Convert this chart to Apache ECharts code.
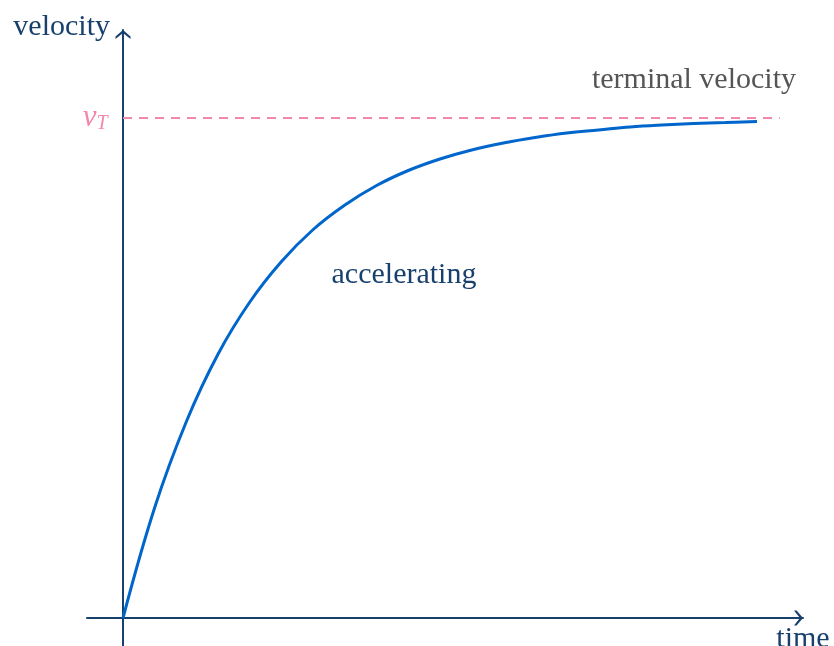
<!DOCTYPE html>
<html>
<head>
<meta charset="utf-8">
<script src="https://cdn.jsdelivr.net/npm/echarts@6/dist/echarts.min.js"></script>
<style>html,body{margin:0;padding:0;background:#fff}#c{width:834px;height:646px}</style>
</head>
<body>
<div id="c"></div>
<script>
// time values (in units of the time constant) and velocity (fraction of terminal velocity)
var timeValues = [0, 0.25, 0.5, 0.75, 1, 1.25, 1.5, 1.75, 2, 2.25, 2.5, 2.75, 3, 3.25, 3.5, 3.75, 4, 4.25, 4.5, 4.75, 5];
var velocityValues = [0, 0.221, 0.393, 0.528, 0.632, 0.713, 0.777, 0.826, 0.865, 0.895, 0.918, 0.936, 0.950, 0.961, 0.970, 0.976, 0.982, 0.986, 0.989, 0.991, 0.993];
var terminalVelocity = 1;
var terminalLineEnd = 5.18;
var axisNames = ['time', 'velocity'];
var annotationTexts = ['accelerating', 'terminal velocity'];
var annotationTimes = [2.216, 4.503];
var annotationVelocities = [0.686, 1.076];

var NAVY = '#17406d';
var PINK = '#f288aa';
var FONT = 'Liberation Serif';
var FS = 30;

var curve = timeValues.map(function (t, i) { return [t, velocityValues[i]]; });
var dashed = [[0, terminalVelocity], [terminalLineEnd, terminalVelocity]];
var chevron = 'path://M0,6.4 L7.5,0 L15,6.4 L15,9 L7.5,3.1 L0,9 Z';

var chart = echarts.init(document.getElementById('c'), null, {renderer: 'canvas'});
chart.setOption({
  animation: false,
  backgroundColor: '#ffffff',
  grid: {left: 87, right: 31, top: 30, bottom: 0, containLabel: false, outerBoundsMode: 'none'},
  xAxis: {
    type: 'value', min: -0.284, max: 5.363,
    name: axisNames[0], nameLocation: 'end', nameGap: 0,
    nameTextStyle: {fontFamily: FONT, fontSize: FS, color: NAVY, align: 'center', verticalAlign: 'top', padding: [6, 0, 0, 0]},
    axisLine: {show: true, onZero: true, symbol: ['none', chevron], symbolSize: [16, 9], symbolOffset: [0, -4.5],
      lineStyle: {color: NAVY, width: 2}},
    axisTick: {show: false}, axisLabel: {show: false}, splitLine: {show: false}
  },
  yAxis: {
    type: 'value', min: -0.056, max: 1.176,
    name: axisNames[1], nameLocation: 'end', nameGap: 3,
    nameTextStyle: {fontFamily: FONT, fontSize: FS, color: NAVY, align: 'right', verticalAlign: 'middle', padding: [0, 13, 0, 0]},
    axisLine: {show: true, onZero: true, symbol: ['none', chevron], symbolSize: [16, 9], symbolOffset: [0, -4.5],
      lineStyle: {color: NAVY, width: 2}},
    axisTick: {show: false}, splitLine: {show: false}, axisLabel: {show: false}
  },
  series: [
    {
      type: 'line', data: dashed, showSymbol: false, silent: true, z: 1,
      lineStyle: {color: PINK, width: 2, type: [9, 7]},
      markPoint: {
        symbol: 'circle', symbolSize: 1, silent: true,
        itemStyle: {color: 'rgba(0,0,0,0)'},
        data: [{
          coord: [0, terminalVelocity],
          label: {
            show: true, position: 'left', distance: 15,
            formatter: '{v|v}{s|T}',
            rich: {
              v: {fontFamily: FONT, fontStyle: 'italic', fontSize: 31, color: PINK},
              s: {fontFamily: FONT, fontStyle: 'italic', fontSize: 20, color: PINK, padding: [12, 0, 0, 0]}
            }
          }
        }]
      }
    },
    {
      type: 'line', data: curve, smooth: 0.4, showSymbol: false, z: 3, clip: false,
      lineStyle: {color: '#0066cc', width: 3},
      markPoint: {
        symbol: 'circle', symbolSize: 1, silent: true,
        itemStyle: {color: 'rgba(0,0,0,0)'},
        data: annotationTexts.map(function (txt, i) {
          return {
            coord: [annotationTimes[i], annotationVelocities[i]],
            label: {show: true, position: 'inside', formatter: txt, fontFamily: FONT, fontSize: FS,
              color: i === 0 ? NAVY : '#555555'}
          };
        })
      }
    }
  ]
});
</script>
</body>
</html>
